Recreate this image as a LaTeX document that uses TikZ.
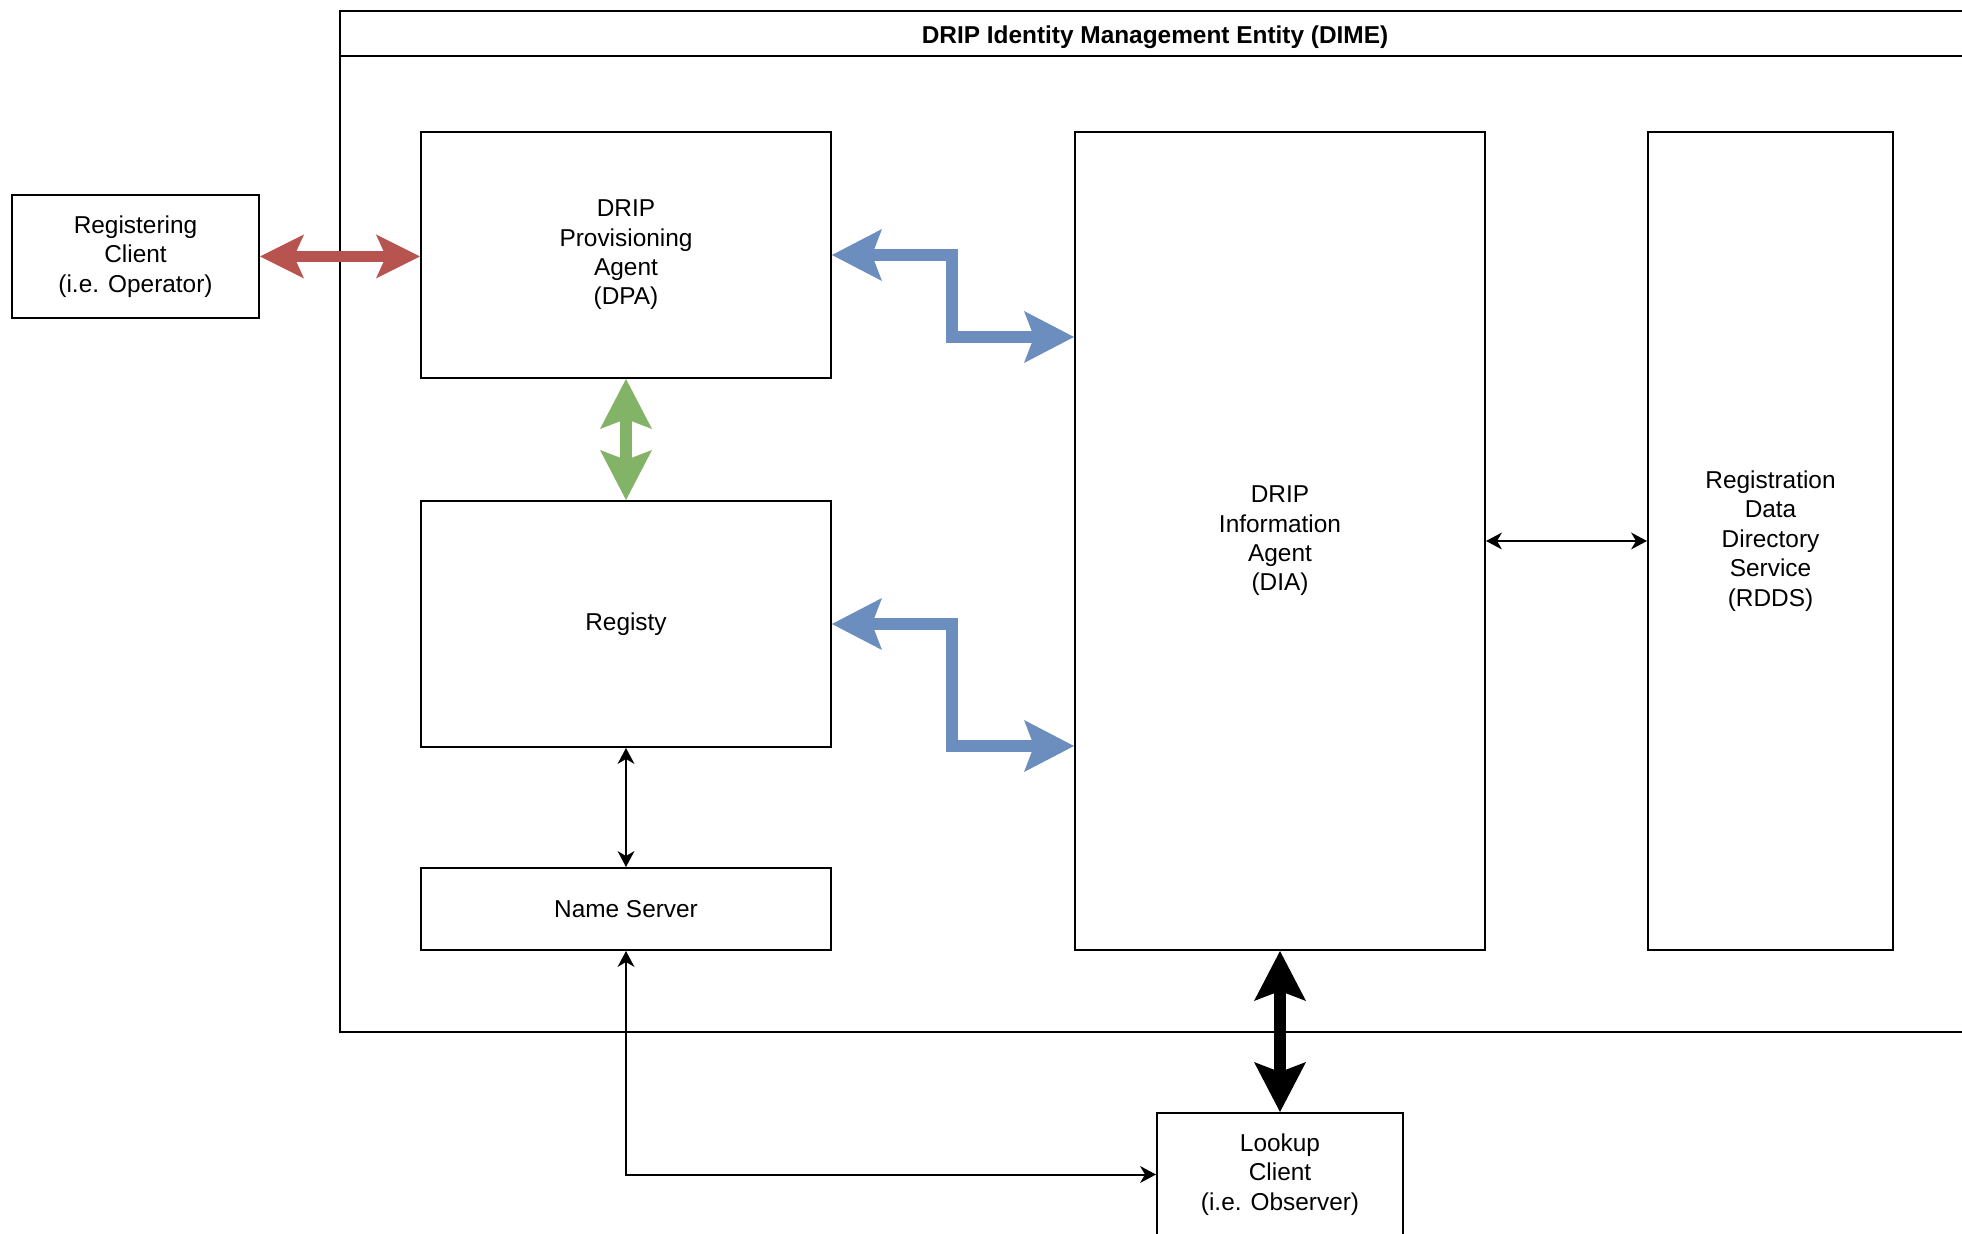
\documentclass[tikz,border=0pt]{standalone}
\usepackage{fontspec}
\setmainfont{Liberation Sans}
\usetikzlibrary{arrows.meta}
\definecolor{cred}{HTML}{B85450}
\definecolor{cblue}{HTML}{6C8EBF}
\definecolor{cgreen}{HTML}{82B366}
\begin{document}
\begin{tikzpicture}[x=0.5pt,y=-0.5pt,
  font=\fontsize{12.2}{14.7}\selectfont,
  box/.style={draw, line width=1pt, fill=white, align=center, inner sep=0pt, anchor=north west},
  flex/.style={line width=6pt, line join=miter, {Stealth[length=25pt,width=26pt,inset=5pt,line width=0pt]}-{Stealth[length=25pt,width=26pt,inset=5pt,line width=0pt]}},
  redflex/.style={cred, line width=5.5pt, {Stealth[length=22pt,width=22pt,inset=5pt,line width=0pt]}-{Stealth[length=22pt,width=22pt,inset=5pt,line width=0pt]}},
  thin/.style={line width=1pt, {Stealth[length=8pt,width=8.5pt,inset=2.5pt,line width=0pt]}-{Stealth[length=8pt,width=8.5pt,inset=2.5pt,line width=0pt]}}
]
\useasboundingbox (0,0) rectangle (1962,1234);
\clip (0,0) rectangle (1962,1234);

% container
\node[box, minimum width=816pt, minimum height=510.5pt] (dime) at (339,10) {};
\node[font=\fontsize{12.2}{14.7}\selectfont\bfseries] (dimetitle) at (1155,37) {DRIP Identity Management Entity (DIME)};
\coordinate (tl) at (339,56);
\draw[line width=1pt] (tl) -- (tl -| dime.east);

% boxes
\node[box, minimum width=123.5pt, minimum height=61.5pt] (rc) at (11,194) {Registering\\Client\\(i.e. Operator)};
\node[box, minimum width=205pt, minimum height=123pt] (dpa) at (420,131) {DRIP\\Provisioning\\Agent\\(DPA)};
\node[box, minimum width=205pt, minimum height=123pt] (rgy) at (420,500) {Registy};
\node[box, minimum width=205pt, minimum height=41pt] (ns) at (420,867) {Name Server};
\node[box, minimum width=205pt, minimum height=409pt] (dia) at (1074,131) {DRIP\\Information\\Agent\\(DIA)};
\node[box, minimum width=122.5pt, minimum height=409pt] (rdds) at (1647,131) {Registration\\Data\\Directory\\Service\\(RDDS)};
\node[box, minimum width=123pt, minimum height=61.5pt] (lk) at (1156,1112) {Lookup\\Client\\(i.e. Observer)};

% connectors
\coordinate (b1) at (952,337);
\coordinate (b2) at (952,746);
\draw[redflex] (rc.east) -- (rc.east -| dpa.west);
\draw[flex, cblue] (dpa.east) -| (b1) -- (b1 -| dia.west);
\draw[flex, cblue] (rgy.east) -| (b2) -- (b2 -| dia.west);
\draw[flex, cgreen] (dpa.south) -- (rgy.north);
\draw[flex, black] (dia.south) -- (lk.north);
\draw[thin] (rgy.south) -- (ns.north);
\draw[thin] (dia.east) -- (rdds.west);
\draw[thin] (ns.south) |- (lk.west);
\end{tikzpicture}
\end{document}
